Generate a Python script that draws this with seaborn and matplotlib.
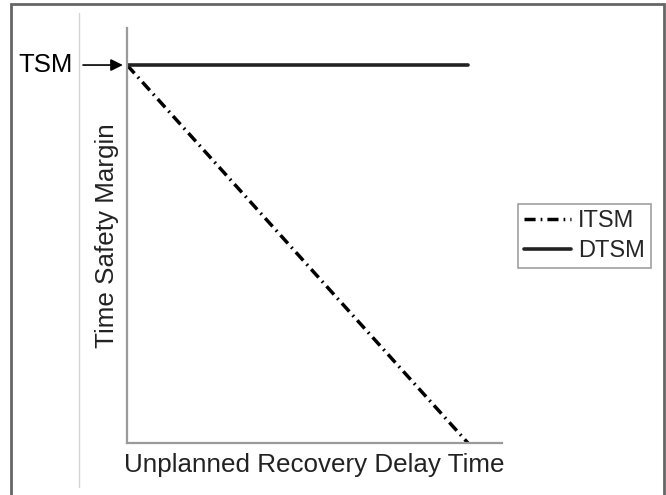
import numpy as np
import pandas as pd
import matplotlib
matplotlib.use("Agg")
import matplotlib.pyplot as plt
import seaborn as sns
from matplotlib.patches import Rectangle
from matplotlib.lines import Line2D

# data: normalised delay time vs. safety margin
delay = [0.0, 1.0]
itsm = [1.0, 0.0]
dtsm = [1.0, 1.0]
series_names = ["ITSM", "DTSM"]

sns.set_theme(style="white")
plt.rcParams['font.family'] = ['Liberation Sans', 'DejaVu Sans']

fig = plt.figure(figsize=(6.66, 4.95), dpi=100)
ax = fig.add_axes([127/666, 1-443/495, (502-127)/666, (443-28)/495])

df = pd.DataFrame({'delay': delay + delay,
                   'margin': itsm + dtsm,
                   'series': [series_names[0]]*2 + [series_names[1]]*2})

sns.lineplot(data=df[df.series == 'ITSM'], x='delay', y='margin', ax=ax,
             color='black', lw=2.5, label='ITSM')
sns.lineplot(data=df[df.series == 'DTSM'], x='delay', y='margin', ax=ax,
             color='#222222', lw=2.6, label='DTSM')
ax.lines[0].set_dashes([3.2, 1.45, 0.5, 1.45])

ax.set_xlim(0, 1.1)
ax.set_ylim(0, 1.098)
ax.set_xticks([])
ax.set_yticks([])
for s in ['top', 'right']:
    ax.spines[s].set_visible(False)
for s in ['left', 'bottom']:
    ax.spines[s].set_color('#9a9a9a')
    ax.spines[s].set_linewidth(1.6)

ax.set_xlabel('Unplanned Recovery Delay Time', fontsize=18.7, color='#222222', labelpad=7)
ax.set_ylabel('Time Safety Margin', fontsize=18.7, color='#222222', labelpad=6)

# TSM pointer
ax.annotate('', xy=(0, 1), xycoords='data', xytext=(-44, 0), textcoords='offset pixels',
            arrowprops=dict(arrowstyle='-|>', color='black', lw=1.2, mutation_scale=18,
                            shrinkA=0, shrinkB=3))
ax.annotate('TSM', xy=(0, 1), xycoords='data', xytext=(-54, 0), textcoords='offset pixels',
            ha='right', va='center', fontsize=18.5, color='black')

leg = ax.legend(loc='upper left', bbox_to_anchor=(518/666, 1-204/495),
                bbox_transform=fig.transFigure, borderaxespad=0, fontsize=17,
                frameon=True, fancybox=False, handlelength=2.0, handletextpad=0.3,
                borderpad=0.25, labelspacing=0.35)
leg.get_frame().set_edgecolor('#888888')
leg.get_frame().set_linewidth(1.2)

# outer frame and faint guide line
fig.patches.append(Rectangle((11/666, -0.01), 653/666, 1-4/495+0.01, transform=fig.transFigure,
                             fill=False, edgecolor='#666666', lw=2))
fig.lines.append(Line2D([79/666, 79/666], [1-487/495, 1-13/495], transform=fig.transFigure,
                        color='#d4d4d4', lw=1))

fig.savefig('out.png', dpi=100)
